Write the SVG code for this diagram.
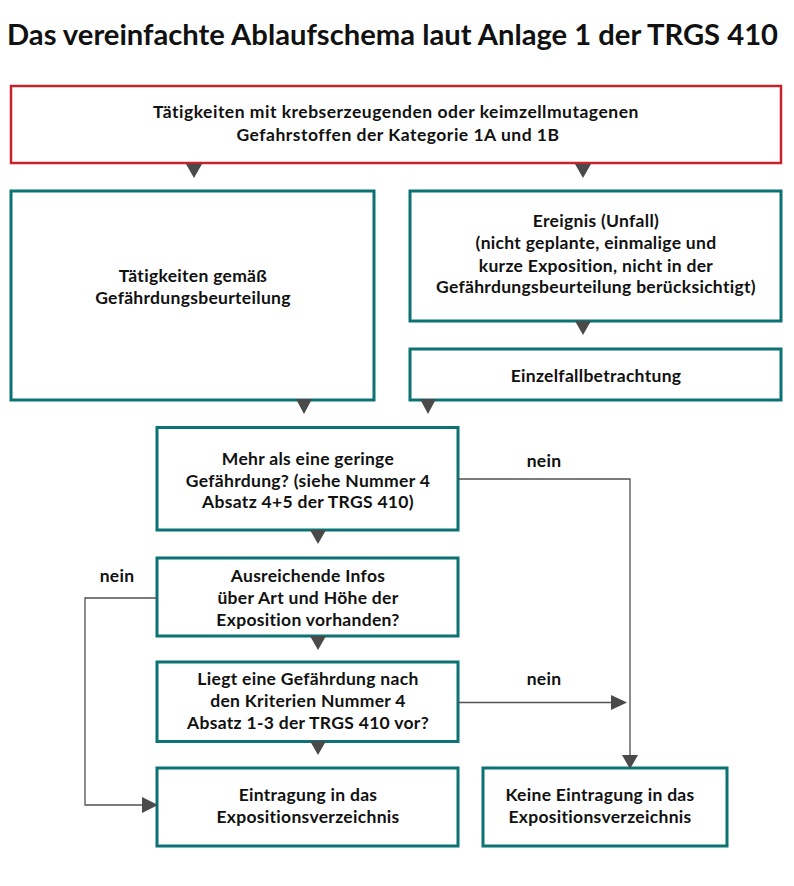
<svg xmlns="http://www.w3.org/2000/svg" width="794" height="886" viewBox="0 0 794 886">
<defs>
<style>
.t{font-family:Lato,"Open Sans","Liberation Sans",sans-serif;font-weight:700;font-size:17.5px;letter-spacing:0.3px;fill:#111;text-anchor:middle}
.tw{letter-spacing:0.5px}
.title{font-family:Lato,"Open Sans","Liberation Sans",sans-serif;font-weight:700;font-size:28px;fill:#111}
.box{fill:#fff;stroke:#0b7373;stroke-width:3}
.red{fill:#fff;stroke:#c8232b;stroke-width:2.5}
.ln{fill:none;stroke:#505050;stroke-width:1.3}
.ah{fill:#4a4a4a}
</style>
</defs>
<rect width="794" height="886" fill="#fff"/>
<text class="title" x="7" y="45" textLength="771" lengthAdjust="spacingAndGlyphs">Das vereinfachte Ablaufschema laut Anlage 1 der TRGS 410</text>

<g id="n-start">
<rect class="red" x="11" y="86" width="770" height="77"/>
<text class="t tw" x="396" y="118">Tätigkeiten mit krebserzeugenden oder keimzellmutagenen</text>
<text class="t tw" x="398" y="141">Gefahrstoffen der Kategorie 1A und 1B</text>
</g>
<g id="n-taetigkeiten">
<rect class="box" x="11" y="191" width="363" height="209"/>
<text class="t" x="193" y="282">Tätigkeiten gemäß</text>
<text class="t" x="193" y="304">Gefährdungsbeurteilung</text>
</g>
<g id="n-ereignis">
<rect class="box" x="410" y="191" width="371" height="130"/>
<text class="t" x="596" y="227">Ereignis (Unfall)</text>
<text class="t" x="596" y="249">(nicht geplante, einmalige und</text>
<text class="t" x="596" y="272">kurze Exposition, nicht in der</text>
<text class="t" x="596" y="293">Gefährdungsbeurteilung berücksichtigt)</text>
</g>
<g id="n-einzelfall">
<rect class="box" x="410" y="349" width="371" height="51"/>
<text class="t" x="596" y="382">Einzelfallbetrachtung</text>
</g>
<g id="n-mehr">
<rect class="box" x="157" y="427.5" width="301" height="102.5"/>
<text class="t" x="308" y="465">Mehr als eine geringe</text>
<text class="t" x="308" y="487">Gefährdung? (siehe Nummer 4</text>
<text class="t" x="308" y="508">Absatz 4+5 der TRGS 410)</text>
</g>
<g id="n-infos">
<rect class="box" x="157" y="558" width="301" height="78"/>
<text class="t" x="308" y="582">Ausreichende Infos</text>
<text class="t" x="308" y="604">über Art und Höhe der</text>
<text class="t" x="308" y="626">Exposition vorhanden?</text>
</g>
<g id="n-liegt">
<rect class="box" x="157" y="662" width="301" height="79.5"/>
<text class="t" x="308" y="685">Liegt eine Gefährdung nach</text>
<text class="t" x="308" y="707">den Kriterien Nummer 4</text>
<text class="t" x="308" y="729">Absatz 1-3 der TRGS 410 vor?</text>
</g>
<g id="n-eintragung">
<rect class="box" x="157" y="768" width="301" height="78"/>
<text class="t" x="308" y="801">Eintragung in das</text>
<text class="t" x="308" y="823">Expositionsverzeichnis</text>
</g>
<g id="n-keine">
<rect class="box" x="483" y="768" width="244" height="78"/>
<text class="t" x="600" y="801">Keine Eintragung in das</text>
<text class="t" x="600" y="823">Expositionsverzeichnis</text>
</g>

<g id="connectors">
<polygon class="ah" points="186,164 202,164 194,178"/>
<polygon class="ah" points="575,164 591,164 583,178"/>
<polygon class="ah" points="575,321 591,321 583,335"/>
<polygon class="ah" points="296,399 312,399 304,414"/>
<polygon class="ah" points="420,399 436,399 428,414"/>
<polygon class="ah" points="310,530 326,530 318,544"/>
<polygon class="ah" points="310,636 326,636 318,650"/>
<polygon class="ah" points="310,741 326,741 318,755"/>
<polyline class="ln" points="458,479 630,479 630,757"/>
<polygon class="ah" points="622,755 638,755 630,769"/>
<polyline class="ln" points="458,702.5 613,702.5"/>
<polygon class="ah" points="611,695 611,710 627,702.5"/>
<polyline class="ln" points="157,598 85,598 85,805 144,805"/>
<polygon class="ah" points="142,797 142,813 158,805"/>
<text class="t" x="544" y="467">nein</text>
<text class="t" x="117" y="582">nein</text>
<text class="t" x="544" y="685">nein</text>
</g>
</svg>
